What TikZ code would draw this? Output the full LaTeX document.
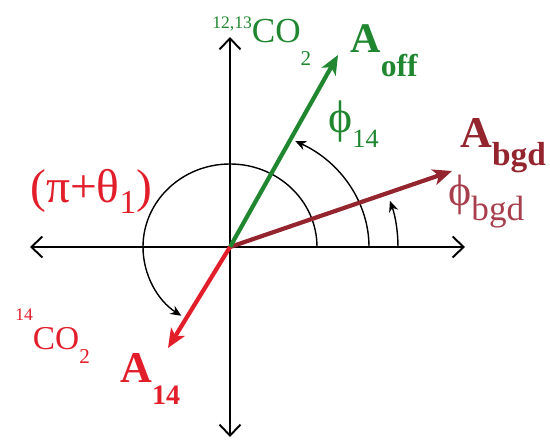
\documentclass[tikz,border=0pt]{standalone}
\usepackage{fontspec}
\setmainfont{Liberation Serif}
\usepackage{tikz}
\usetikzlibrary{arrows.meta,positioning,calc}
\definecolor{OffGreen}{RGB}{32,135,48}
\definecolor{BgdRed}{RGB}{148,36,46}
\definecolor{BgdSoft}{RGB}{168,62,76}
\definecolor{FourRed}{RGB}{226,30,42}
\newcommand{\fsz}[1]{\fontsize{#1}{#1}\selectfont}
\tikzset{
  axis/.style={{Straight Barb[length=0.22cm,width=0.42cm]}-{Straight Barb[length=0.22cm,width=0.42cm]},line width=1.1pt,black},
  halfaxis/.style={-{Straight Barb[length=0.22cm,width=0.42cm]},line width=1.1pt,black},
  phasor/.style={-{Stealth[length=0.38cm,width=0.32cm,inset=0.1cm]},line width=2.4pt},
  anglearc/.style={-{Stealth[length=0.22cm,width=0.19cm]},line width=0.8pt,black},
  lbl/.style={inner sep=0pt,anchor=base west}
}
\begin{document}
\begin{tikzpicture}
  \useasboundingbox (-4.6,-3.96) rectangle (6.4,4.94);
  % axes
  \coordinate (O) at (0,0);
  \coordinate (xl) at (-4.0,0);
  \coordinate (xr) at (4.7,0);
  \coordinate (yt) at (0,4.2);
  \coordinate (yb) at (0,-3.8);
  \draw[axis] (xl) -- (xr);
  \draw[halfaxis] (O) -- (yt);
  \draw[halfaxis] (O) -- (yb);
  % angle arcs
  \draw[anglearc] (O) ++(1.74,0) arc[start angle=0,end angle=236,x radius=1.74,y radius=1.66];
  \draw[anglearc] (O) ++(2.78,0) arc[start angle=0,end angle=62,x radius=2.78,y radius=2.4];
  \draw[anglearc] (O) ++(3.36,0) arc[start angle=0,end angle=17.8,x radius=3.36,y radius=3.02];
  % phasors
  \coordinate (off) at (2.16,3.84);
  \coordinate (bgd) at (4.44,1.52);
  \coordinate (c14) at (-1.24,-2.02);
  \draw[phasor,BgdRed] (O) -- (bgd);
  \draw[phasor,OffGreen] (O) -- (off);
  \draw[phasor,FourRed] (O) -- (c14);
  % labels
  \node[lbl,OffGreen] (co2top) at (-0.36,4.08)
    {\raisebox{8.5pt}{\fsz{10}12,13}\fsz{20}CO\raisebox{-13pt}{\fsz{12}2}};
  \node[lbl,OffGreen] (Aoff) at (2.40,3.88)
    {\fsz{24}\textbf{A}\raisebox{-13.5pt}{\fsz{18}\textbf{off}}};
  \node[lbl,OffGreen] (phi14) at (1.96,2.28)
    {\fsz{26}ϕ\raisebox{-8pt}{\fsz{15}14}};
  \node[lbl,BgdRed] (Abgd) at (4.60,1.98)
    {\fsz{25}\textbf{A}\raisebox{-9.7pt}{\fsz{19}\textbf{bgd}}};
  \node[lbl,BgdSoft] (phibgd) at (4.36,0.82)
    {\fsz{25}ϕ\raisebox{-8pt}{\fsz{20}bgd}};
  \node[lbl,FourRed] (pitheta) at (-4.0,0.88)
    {\fsz{27}(π+θ\raisebox{-6pt}{\fsz{19}1})};
  \node[lbl,FourRed] (co2bot) at (-4.30,-2.06)
    {\raisebox{17pt}{\fsz{10}14}\fsz{19}CO\raisebox{-7.5pt}{\fsz{12}2}};
  \node[lbl,FourRed] (A14) at (-2.20,-2.72)
    {\fsz{25}\textbf{A}\raisebox{-12.5pt}{\fsz{16}\textbf{14}}};
\end{tikzpicture}
\end{document}
